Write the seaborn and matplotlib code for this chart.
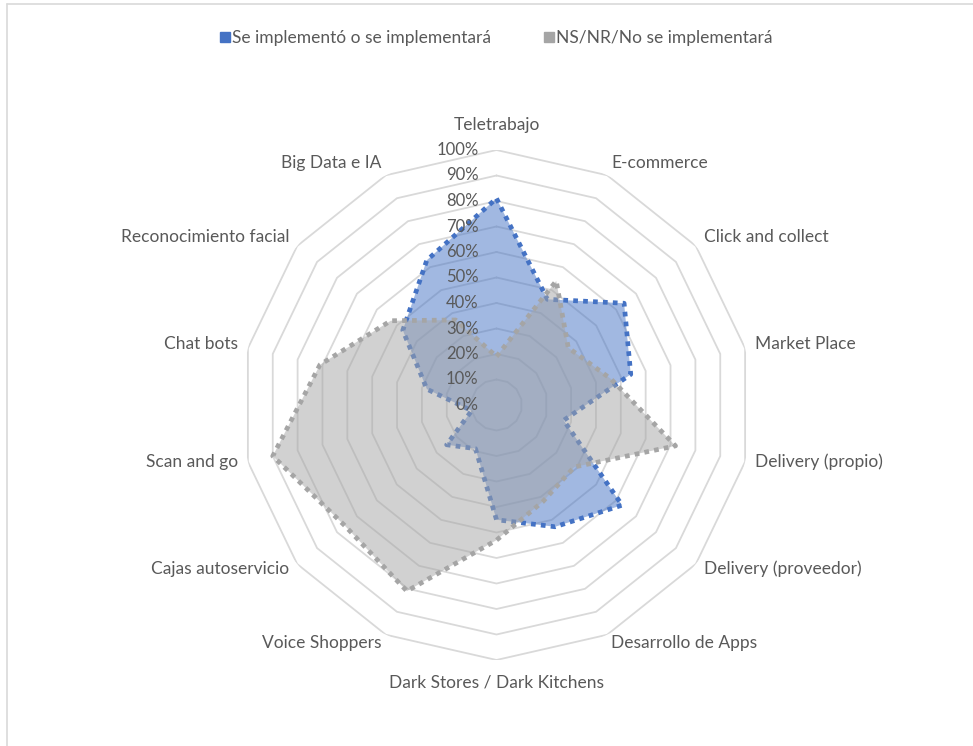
import numpy as np
import matplotlib
matplotlib.use("Agg")
import matplotlib.pyplot as plt
import seaborn as sns
from matplotlib.lines import Line2D

# ------------------------------------------------------------------ #
# Data (percent of respondents)
# ------------------------------------------------------------------ #
categorias = ["Teletrabajo", "E-commerce", "Click and collect", "Market Place",
              "Delivery (propio)", "Delivery (proveedor)", "Desarrollo de Apps",
              "Dark Stores / Dark Kitchens", "Voice Shoppers", "Cajas autoservicio",
              "Scan and go", "Chat bots", "Reconocimiento facial", "Big Data e IA"]
implementado = [81, 46, 64, 54, 27, 63, 53, 45, 19, 25, 10, 28, 47, 63]
no_implementado = [19, 54, 36, 46, 72, 39, 42, 53, 81, 76, 90, 71, 53, 37]
ticks = [0, 10, 20, 30, 40, 50, 60, 70, 80, 90, 100]
tick_labels = [f"{t}%" for t in ticks]

serie_azul = "Se implementó o se implementará"
serie_gris = "NS/NR/No se implementará"
AZUL = "#4472C4"
GRIS = "#A5A5A5"
TXT = "#595959"
GRID = "#D9D9D9"

sns.set_style("white")
plt.rcParams["font.family"] = ["Lato", "DejaVu Sans"]

n = len(categorias)
theta = np.linspace(0, 2 * np.pi, n, endpoint=False)
theta_c = np.append(theta, theta[0])

fig = plt.figure(figsize=(9.73, 7.46), dpi=100)
# centre at (496.5, 405) px, radius 255 px
ax = fig.add_axes([241.5 / 973, 86 / 746, 510 / 973, 510 / 746], projection="polar")
ax.set_theta_offset(np.pi / 2)
ax.set_theta_direction(-1)
ax.set_ylim(0, 100)
ax.grid(False)
ax.spines["polar"].set_visible(False)
ax.set_xticks([])
ax.set_yticks([])
ax.patch.set_alpha(0)

# polygon grid (no spokes, like Excel)
for t in ticks[1:]:
    ax.plot(theta_c, [t] * (n + 1), color=GRID, lw=1.3, zorder=1)

# series
for vals, col, z in [(implementado, AZUL, 3), (no_implementado, GRIS, 4)]:
    v = np.append(vals, vals[0])
    ax.fill(theta_c, v, color=col, alpha=0.5, lw=0, zorder=z)
    ax.plot(theta_c, v, color=col, lw=3.4, linestyle=(0, (1, 1.1)), zorder=z)

# radial tick labels
for t, lab in zip(ticks, tick_labels):
    ax.annotate(lab, xy=(0, t), xytext=(-18, 0), textcoords="offset pixels",
                ha="right", va="center", fontsize=12, color=TXT, zorder=6)

# category labels
for th, cat in zip(theta, categorias):
    s, c = np.sin(th), np.cos(th)
    if abs(s) < 0.1:
        ha, dx, dy = "center", 0, 25 if c > 0 else -23
    else:
        ha = "left" if s > 0 else "right"
        dx = 10 * s
        dy = 11 * c + 2
    ax.annotate(cat, xy=(th, 100), xytext=(dx, dy), textcoords="offset pixels",
                ha=ha, va="center", fontsize=12.5, color=TXT, annotation_clip=False)

# legend
handles = [Line2D([], [], color=AZUL, lw=0, marker="s", markersize=7),
           Line2D([], [], color=GRIS, lw=0, marker="s", markersize=7)]
fig.legend(handles, [serie_azul, serie_gris], loc="center", bbox_to_anchor=(0.51, 0.949),
           ncol=2, frameon=False, fontsize=12.5, handlelength=0.6, handletextpad=0.1,
           columnspacing=3.0, labelcolor=TXT)

# chart area border (top and left visible)
fig.add_artist(Line2D([7 / 973, 7 / 973], [0, 1 - 4 / 746], transform=fig.transFigure,
                      color=GRID, lw=1.2))
fig.add_artist(Line2D([7 / 973, 1], [1 - 4 / 746, 1 - 4 / 746], transform=fig.transFigure,
                      color=GRID, lw=1.2))

fig.savefig("out.png", dpi=100)
